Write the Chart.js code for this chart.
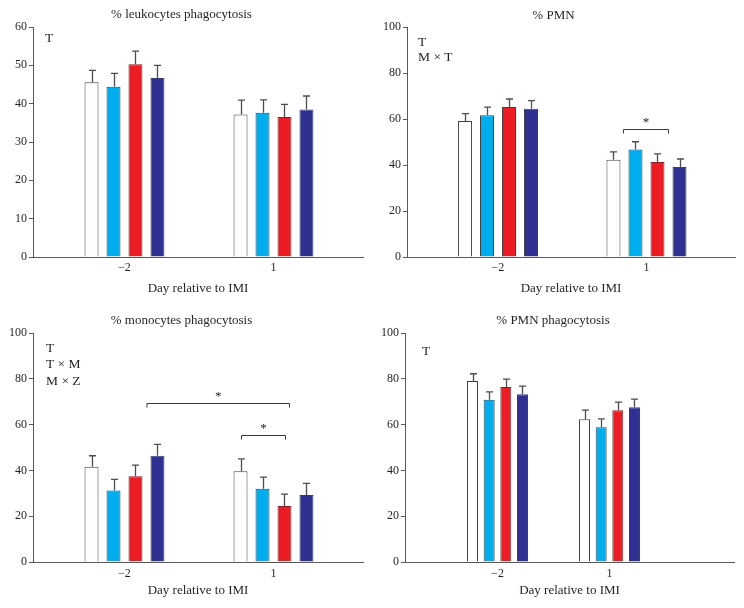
<!DOCTYPE html>
<html><head><meta charset="utf-8">
<script src="https://cdn.jsdelivr.net/npm/chart.js@4/dist/chart.umd.min.js"></script>
<style>
html,body{margin:0;padding:0;background:#fff;}
#wrap{position:relative;width:744px;height:608px;overflow:hidden;}
.p{position:absolute;}
</style></head><body>
<div id="wrap">
<div class="p" style="left:0;top:0;"><canvas id="c1" width="372" height="300"></canvas></div>
<div class="p" style="left:372px;top:0;"><canvas id="c2" width="372" height="300"></canvas></div>
<div class="p" style="left:0;top:300px;"><canvas id="c3" width="372" height="308"></canvas></div>
<div class="p" style="left:372px;top:300px;"><canvas id="c4" width="372" height="308"></canvas></div>
</div>
<script>
// ---------- data ----------
const days = [-2, 1];
const dayLabels = ['\u22122', '1'];
const seriesNames = ['Group 1', 'Group 2', 'Group 3', 'Group 4'];
const seriesColors = ['#ffffff', '#00aeef', '#ed1c24', '#2e3192'];
const xAxisTitle = 'Day relative to IMI';

// % leukocytes phagocytosis
const leukTitle = '% leukocytes phagocytosis';
const leukG1 = [45.6, 37.2], leukG2 = [44.4, 37.6], leukG3 = [50.3, 36.5], leukG4 = [46.7, 38.5];
const leukE1 = [3.1, 3.7], leukE2 = [3.5, 3.4], leukE3 = [3.4, 3.3], leukE4 = [3.3, 3.5];
const leukNotes = ['T'];
const leukTicks = [0, 10, 20, 30, 40, 50, 60];

// % PMN
const pmnTitle = '% PMN';
const pmnG1 = [59.1, 42.3], pmnG2 = [61.6, 46.7], pmnG3 = [65.2, 41.3], pmnG4 = [64.5, 39.1];
const pmnE1 = [3.2, 3.4], pmnE2 = [3.6, 3.4], pmnE3 = [3.5, 3.5], pmnE4 = [3.5, 3.5];
const pmnNotes = ['T', 'M \u00d7 T'];
const pmnTicks = [0, 20, 40, 60, 80, 100];
const pmnSig = [{from: [1, 1], to: [1, 2], y: 55.5, label: '*'}];

// % monocytes phagocytosis
const monoTitle = '% monocytes phagocytosis';
const monoG1 = [41.6, 39.6], monoG2 = [31.2, 32.0], monoG3 = [37.4, 24.5], monoG4 = [46.4, 29.3];
const monoE1 = [4.8, 5.4], monoE2 = [4.9, 5.1], monoE3 = [4.9, 5.1], monoE4 = [5.0, 5.0];
const monoNotes = ['T', 'T \u00d7 M', 'M \u00d7 Z'];
const monoTicks = [0, 20, 40, 60, 80, 100];
const monoSig = [{from: [0, 3], to: [1, 2], y: 69.3, label: '*'}, {from: [1, 0], to: [1, 2], y: 55.3, label: '*'}];

// % PMN phagocytosis
const pphTitle = '% PMN phagocytosis';
const pphG1 = [79.0, 62.3], pphG2 = [70.9, 58.8], pphG3 = [76.4, 66.3], pphG4 = [73.3, 67.6];
const pphE1 = [3.2, 4.0], pphE2 = [3.4, 3.7], pphE3 = [3.5, 3.5], pphE4 = [3.5, 3.5];
const pphNotes = ['T'];
const pphTicks = [0, 20, 40, 60, 80, 100];

// ---------- drawing ----------
const FONT = '"Liberation Serif", "DejaVu Serif", serif';
const TXT = '#231f20';
const AX = '#58595b';

const extras = {
  id: 'extras',
  afterDatasetsDraw(chart, args, o) {
    const ctx = chart.ctx, ys = chart.scales.y, area = chart.chartArea;
    ctx.save();
    ctx.strokeStyle = '#4d4d4f';
    ctx.lineWidth = 1.3;
    chart.data.datasets.forEach((ds, k) => {
      const meta = chart.getDatasetMeta(k);
      meta.data.forEach((bar, i) => {
        const yt = ys.getPixelForValue(ds.data[i].y + ds.errors[i]);
        const x = Math.round(bar.x) + 0.5;
        ctx.beginPath();
        ctx.moveTo(x, bar.y);
        ctx.lineTo(x, yt);
        ctx.moveTo(x - o.cap, yt);
        ctx.lineTo(x + o.cap, yt);
        ctx.stroke();
      });
    });
    // significance brackets
    ctx.lineWidth = 1;
    ctx.strokeStyle = '#3a3a3c';
    ctx.fillStyle = TXT;
    ctx.font = '13px ' + FONT;
    ctx.textAlign = 'center';
    ctx.textBaseline = 'middle';
    (o.brackets || []).forEach((b, j) => {
      const dx = o.bracketDx[j];
      const x1 = chart.getDatasetMeta(b.from[1]).data[b.from[0]].x + dx[0];
      const x2 = chart.getDatasetMeta(b.to[1]).data[b.to[0]].x + dx[1];
      const yy = Math.round(ys.getPixelForValue(b.y)) + 0.5;
      ctx.beginPath();
      ctx.moveTo(x1, yy + o.bracketTick);
      ctx.lineTo(x1, yy);
      ctx.lineTo(x2, yy);
      ctx.lineTo(x2, yy + o.bracketTick);
      ctx.stroke();
      ctx.fillText(b.label, (x1 + x2) / 2, yy - 7);
    });
    // effect notes
    ctx.textAlign = 'left';
    ctx.font = '13.5px ' + FONT;
    (o.notes || []).forEach((t, j) => {
      ctx.fillText(t, area.left + o.noteX, area.top + o.noteY + j * o.noteGap);
    });
    ctx.restore();
  }
};

function makeChart(id, c) {
  const datasets = seriesNames.map((name, k) => ({
    label: name,
    data: days.map((d, i) => ({x: d, y: c.values[k][i]})),
    errors: c.errors[k],
    backgroundColor: seriesColors[k],
    borderColor: '#404041',
    borderWidth: 1,
    borderSkipped: 'bottom',
    barPercentage: c.barPct,
    categoryPercentage: c.catPct
  }));
  return new Chart(document.getElementById(id), {
    type: 'bar',
    data: {datasets},
    plugins: [extras],
    options: {
      responsive: false,
      animation: false,
      devicePixelRatio: 1,
      layout: {padding: {left: 0, right: c.padRight, top: 0, bottom: 0}},
      plugins: {
        legend: {display: false},
        tooltip: {enabled: false},
        title: {
          display: true, text: c.title, color: TXT,
          font: {family: FONT, size: 13, weight: 'normal'},
          padding: {top: c.titleTop, bottom: c.titleBottom}
        },
        extras: {
          cap: 3.5, notes: c.notes, noteX: c.noteX, noteY: c.noteY, noteGap: c.noteGap,
          brackets: c.brackets, bracketDx: c.bracketDx || [], bracketTick: 4
        }
      },
      scales: {
        x: {
          type: 'linear', min: c.xmin, max: c.xmax, offset: false,
          afterBuildTicks: s => { s.ticks = days.map(v => ({value: v})); },
          grid: {display: false, drawTicks: false},
          border: {display: true, color: AX, width: 1},
          ticks: {
            color: TXT, padding: c.xTickPad, maxRotation: 0, autoSkip: false,
            font: {family: FONT, size: 12},
            callback: v => dayLabels[days.indexOf(v)]
          },
          title: {
            display: true, text: xAxisTitle, color: TXT,
            font: {family: FONT, size: 13, lineHeight: 1.0},
            padding: {top: c.axTitleTop, bottom: c.axTitleBottom}
          }
        },
        y: {
          min: 0, max: c.ymax,
          afterBuildTicks: s => { s.ticks = c.yticks.map(v => ({value: v})); },
          afterFit: s => { s.width = c.yWidth; },
          grid: {display: true, drawOnChartArea: false, drawTicks: true, tickLength: 4, color: AX},
          border: {display: true, color: AX, width: 1},
          ticks: {color: TXT, padding: 2, font: {family: FONT, size: 12}}
        }
      }
    }
  });
}

makeChart('c1', {
  title: leukTitle, values: [leukG1, leukG2, leukG3, leukG4], errors: [leukE1, leukE2, leukE3, leukE4],
  notes: leukNotes, yticks: leukTicks, ymax: 60,
  yWidth: 33, padRight: 9, titleTop: 7.2, titleBottom: 4.2,
  xTickPad: 4, axTitleTop: 2.6, axTitleBottom: 5,
  xmin: -3.842, xmax: 2.802, barPct: 0.636, catPct: 0.59,
  noteX: 12, noteY: 11, noteGap: 15
});
makeChart('c2', {
  title: pmnTitle, values: [pmnG1, pmnG2, pmnG3, pmnG4], errors: [pmnE1, pmnE2, pmnE3, pmnE4],
  notes: pmnNotes, yticks: pmnTicks, ymax: 100,
  yWidth: 35, padRight: 9, titleTop: 7.7, titleBottom: 3.7,
  xTickPad: 4, axTitleTop: 2.6, axTitleBottom: 5,
  xmin: -3.838, xmax: 2.788, barPct: 0.636, catPct: 0.593,
  noteX: 11, noteY: 15.7, noteGap: 14.6,
  brackets: pmnSig, bracketDx: [[-12, 11]]
});
makeChart('c3', {
  title: monoTitle, values: [monoG1, monoG2, monoG3, monoG4], errors: [monoE1, monoE2, monoE3, monoE4],
  notes: monoNotes, yticks: monoTicks, ymax: 100,
  yWidth: 33, padRight: 9, titleTop: 12.5, titleBottom: 4.9,
  xTickPad: 5, axTitleTop: -1.9, axTitleBottom: 10.5,
  xmin: -3.842, xmax: 2.802, barPct: 0.636, catPct: 0.59,
  noteX: 13, noteY: 15, noteGap: 16.7,
  brackets: monoSig, bracketDx: [[-10.5, 5], [1, 1]]
});
makeChart('c4', {
  title: pphTitle, values: [pphG1, pphG2, pphG3, pphG4], errors: [pphE1, pphE2, pphE3, pphE4],
  notes: pphNotes, yticks: pphTicks, ymax: 100,
  yWidth: 33, padRight: 10, titleTop: 13.2, titleBottom: 4.2,
  xTickPad: 5, axTitleTop: -1.9, axTitleBottom: 10.5,
  xmin: -4.478, xmax: 4.335, barPct: 0.66, catPct: 0.595,
  noteX: 17, noteY: 18.7, noteGap: 15
});
</script>
</body></html>
